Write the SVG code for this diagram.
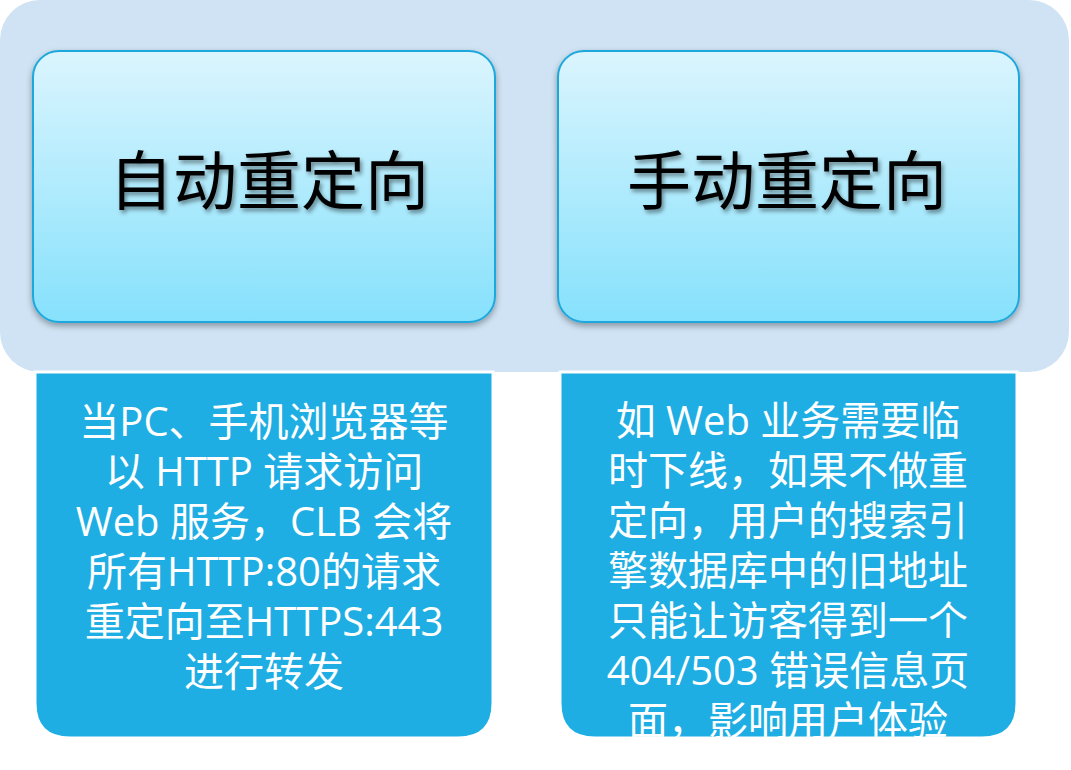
<svg xmlns="http://www.w3.org/2000/svg" width="1071" height="770" viewBox="0 0 1071 770">
  <defs>
    <linearGradient id="hdrGrad" x1="0" y1="0" x2="0" y2="1">
      <stop offset="0" stop-color="#DBF5FE"/>
      <stop offset="1" stop-color="#86E1FC"/>
    </linearGradient>
    <filter id="boxShadow" x="-10%" y="-10%" width="120%" height="130%">
      <feDropShadow dx="0" dy="3" stdDeviation="3" flood-color="#000" flood-opacity="0.35"/>
    </filter>
    <filter id="textShadow" x="-10%" y="-20%" width="120%" height="150%">
      <feDropShadow dx="2" dy="3" stdDeviation="2" flood-color="#000" flood-opacity="0.45"/>
    </filter>
    <clipPath id="clipRight">
      <path d="M560,373 H1017 V703 Q1017,738 982,738 H595 Q560,738 560,703 Z"/>
    </clipPath>
  </defs>
  <style>
    .hdr { fill: url(#hdrGrad); stroke: #1FA8DC; stroke-width: 2; }
    .hdrText { font-family: "Noto Sans CJK SC", "Noto Sans", sans-serif; font-size: 64px; fill: #000; text-anchor: middle; dominant-baseline: central; }
    .body { fill: #1FAEE3; stroke: #FFFFFF; stroke-width: 3; }
    .bodyText { font-family: "Open Sans", "Noto Sans CJK SC", sans-serif; font-size: 40px; fill: #FFFFFF; text-anchor: middle; dominant-baseline: central; }
  </style>

  <g id="panel">
    <rect x="0" y="0" width="1069" height="372" rx="40" ry="40" fill="#CFE3F4"/>
  </g>

  <g id="node-auto-header">
    <rect class="hdr" x="33" y="51" width="462" height="271" rx="26" ry="26" filter="url(#boxShadow)"/>
    <text class="hdrText" x="269" y="176" filter="url(#textShadow)">自动重定向</text>
  </g>

  <g id="node-manual-header">
    <rect class="hdr" x="558" y="51" width="461" height="271" rx="26" ry="26" filter="url(#boxShadow)"/>
    <text class="hdrText" x="787" y="176" filter="url(#textShadow)">手动重定向</text>
  </g>

  <g id="node-auto-body">
    <path class="body" d="M35,372 H493 V703 Q493,738 458,738 H70 Q35,738 35,703 Z"/>
    <text class="bodyText" x="264" y="420">当PC、手机浏览器等</text>
    <text class="bodyText" x="264" y="470">以 HTTP 请求访问</text>
    <text class="bodyText" x="264" y="520">Web 服务，CLB 会将</text>
    <text class="bodyText" x="264" y="570">所有HTTP:80的请求</text>
    <text class="bodyText" x="264" y="620">重定向至HTTPS:443</text>
    <text class="bodyText" x="264" y="670">进行转发</text>
  </g>

  <g id="node-manual-body">
    <path class="body" d="M560,372 H1017 V703 Q1017,738 982,738 H595 Q560,738 560,703 Z"/>
    <g clip-path="url(#clipRight)">
      <text class="bodyText" x="788" y="419">如 Web 业务需要临</text>
      <text class="bodyText" x="788" y="469">时下线，如果不做重</text>
      <text class="bodyText" x="788" y="519">定向，用户的搜索引</text>
      <text class="bodyText" x="788" y="569">擎数据库中的旧地址</text>
      <text class="bodyText" x="788" y="619">只能让访客得到一个</text>
      <text class="bodyText" x="788" y="669">404/503 错误信息页</text>
      <text class="bodyText" x="788" y="719">面，影响用户体验</text>
    </g>
  </g>

  <g id="connectors"></g>
</svg>
